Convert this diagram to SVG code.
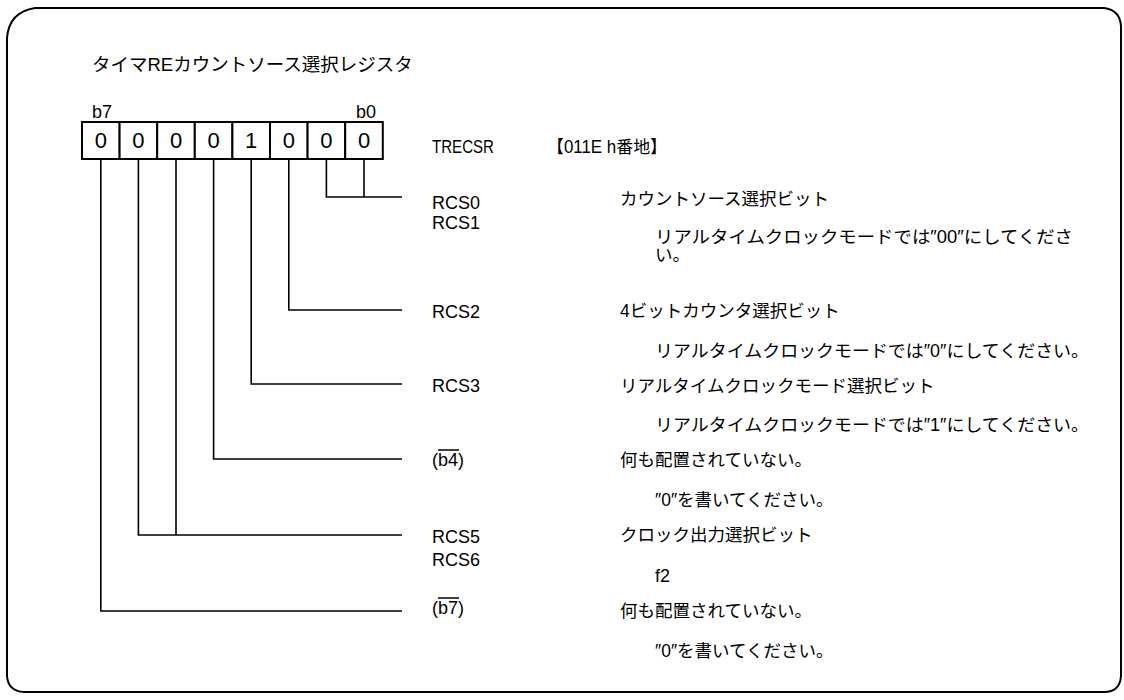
<svg xmlns="http://www.w3.org/2000/svg" width="1124" height="700" viewBox="0 0 1124 700">
<style>
.jp{font-family:"Liberation Sans","Noto Sans CJK JP",sans-serif;font-size:17.5px;fill:#000}
.ttl{font-family:"Liberation Sans","Noto Sans CJK JP",sans-serif;font-size:18.5px;fill:#000}
.lat{font-family:"Liberation Sans","Noto Sans CJK JP",sans-serif;font-size:18px;fill:#000}
.dig{font-family:"Liberation Sans",sans-serif;font-size:22px;fill:#000;text-anchor:middle}
.cell{fill:#fff;stroke:#000;stroke-width:2}
.wire{fill:none;stroke:#000;stroke-width:1.6}
.frame{fill:none;stroke:#000;stroke-width:2}
</style>
<rect x="0" y="0" width="1124" height="700" fill="#fff"/>
<path class="frame" d="M35,8 L1104,8 Q1120,10 1121,26 L1121,676 Q1120,692 1104,692 L24,692 Q8,691 7,676 L7,38 Q9,12 35,8 Z"/>
<g id="title"><text class="ttl" x="92" y="71">タイマREカウントソース選択レジスタ</text></g>
<g id="register">
<text class="lat" x="92" y="118">b7</text>
<text class="lat" x="356" y="118">b0</text>
<rect class="cell" x="82" y="122" width="37.6" height="37"/>
<rect class="cell" x="119.6" y="122" width="37.6" height="37"/>
<rect class="cell" x="157.2" y="122" width="37.6" height="37"/>
<rect class="cell" x="194.8" y="122" width="37.6" height="37"/>
<rect class="cell" x="232.4" y="122" width="37.6" height="37"/>
<rect class="cell" x="270" y="122" width="37.6" height="37"/>
<rect class="cell" x="307.6" y="122" width="37.6" height="37"/>
<rect class="cell" x="345.2" y="122" width="37.6" height="37"/>
<text class="dig" x="100.8" y="148">0</text>
<text class="dig" x="138.4" y="148">0</text>
<text class="dig" x="176" y="148">0</text>
<text class="dig" x="213.6" y="148">0</text>
<text class="dig" x="251.2" y="148">1</text>
<text class="dig" x="288.8" y="148">0</text>
<text class="dig" x="326.4" y="148">0</text>
<text class="dig" x="364" y="148">0</text>
</g>
<g id="regname">
<text class="lat" x="432" y="153" textLength="62" lengthAdjust="spacingAndGlyphs">TRECSR</text>
<text class="jp" x="547" y="153" textLength="120" lengthAdjust="spacingAndGlyphs">【011E h番地】</text>
</g>
<g id="connectors">
<path class="wire" d="M326.4,159 V197 H402 M364,159 V197"/>
<path class="wire" d="M288.8,159 V310 H402"/>
<path class="wire" d="M251.2,159 V384 H402"/>
<path class="wire" d="M213.6,159 V459 H402"/>
<path class="wire" d="M138.4,159 V535 H402 M176,159 V535"/>
<path class="wire" d="M100.8,159 V611 H402"/>
</g>
<g id="bit-rcs01">
<text class="lat" x="432" y="209">RCS0</text>
<text class="lat" x="432" y="229">RCS1</text>
<text class="jp" x="620" y="205">カウントソース選択ビット</text>
<text class="jp" x="655" y="243" textLength="418" lengthAdjust="spacingAndGlyphs">リアルタイムクロックモードでは″00″にしてくださ</text>
<text class="jp" x="655" y="261">い。</text>
</g>
<g id="bit-rcs2">
<text class="lat" x="432" y="318">RCS2</text>
<text class="jp" x="620" y="317">4ビットカウンタ選択ビット</text>
<text class="jp" x="655" y="357" textLength="434" lengthAdjust="spacingAndGlyphs">リアルタイムクロックモードでは″0″にしてください。</text>
</g>
<g id="bit-rcs3">
<text class="lat" x="432" y="392">RCS3</text>
<text class="jp" x="620" y="392">リアルタイムクロックモード選択ビット</text>
<text class="jp" x="655" y="431" textLength="434" lengthAdjust="spacingAndGlyphs">リアルタイムクロックモードでは″1″にしてください。</text>
</g>
<g id="bit-b4">
<text class="lat" x="432" y="466">(b4)</text>
<line x1="438" y1="450" x2="459" y2="450" stroke="#000" stroke-width="1.5"/>
<text class="jp" x="620" y="466">何も配置されていない。</text>
<text class="jp" x="655" y="506">″0″を書いてください。</text>
</g>
<g id="bit-rcs56">
<text class="lat" x="432" y="543">RCS5</text>
<text class="lat" x="432" y="566">RCS6</text>
<text class="jp" x="620" y="541">クロック出力選択ビット</text>
<text class="lat" x="655" y="582">f2</text>
</g>
<g id="bit-b7">
<text class="lat" x="432" y="614">(b7)</text>
<line x1="438" y1="598" x2="459" y2="598" stroke="#000" stroke-width="1.5"/>
<text class="jp" x="620" y="617">何も配置されていない。</text>
<text class="jp" x="655" y="657">″0″を書いてください。</text>
</g>
</svg>
